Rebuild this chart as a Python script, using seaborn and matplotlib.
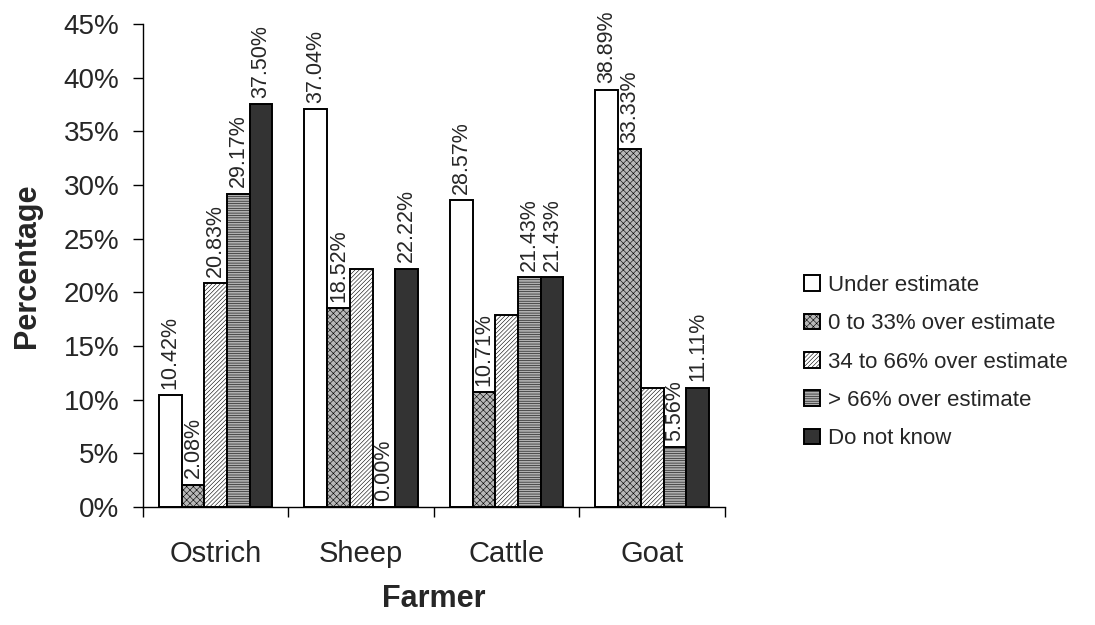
import matplotlib
matplotlib.use("Agg")
import matplotlib.pyplot as plt
from matplotlib.ticker import FixedLocator, FuncFormatter
import seaborn as sns
import pandas as pd

farmers = ["Ostrich", "Sheep", "Cattle", "Goat"]
categories = ["Under estimate", "0 to 33% over estimate", "34 to 66% over estimate",
              "> 66% over estimate", "Do not know"]
under_estimate = [10.42, 37.04, 28.57, 38.89]
over_0_33 = [2.08, 18.52, 10.71, 33.33]
over_34_66 = [20.83, 22.22, 17.86, 11.11]
over_66 = [29.17, 0.00, 21.43, 5.56]
do_not_know = [37.50, 22.22, 21.43, 11.11]
# labels shown in the reference (the 34-66% bars of Sheep, Cattle, Goat carry none)
shown = {
    "Under estimate": [True, True, True, True],
    "0 to 33% over estimate": [True, True, True, True],
    "34 to 66% over estimate": [True, False, False, False],
    "> 66% over estimate": [True, True, True, True],
    "Do not know": [True, True, True, True],
}
series = [under_estimate, over_0_33, over_34_66, over_66, do_not_know]

rows = []
for cat, vals in zip(categories, series):
    for f, v in zip(farmers, vals):
        rows.append({"Farmer": f, "Category": cat, "Percentage": v})
df = pd.DataFrame(rows)

sns.set_style("white")
plt.rcParams["font.family"] = ["Liberation Sans", "DejaVu Sans"]
plt.rcParams["hatch.linewidth"] = 0.4

fig = plt.figure(figsize=(10.95, 6.25), dpi=100)
ax = fig.add_axes([0.1306, 0.1888, 0.5314, 0.7728])

faces = ["#ffffff", "#b8b8b8", "#ffffff", "#b0b0b0", "#333333"]
hatches = [None, "xxxxx", "////////", "-------", None]
palette = dict(zip(categories, faces))

sns.barplot(data=df, x="Farmer", y="Percentage", hue="Category", order=farmers,
            hue_order=categories, palette=palette, width=0.78, dodge=True,
            edgecolor="black", linewidth=1.4, saturation=1, ax=ax, legend=False)

for cont, h, cat in zip(ax.containers, hatches, categories):
    for bar, lab_on in zip(cont.patches, shown[cat]):
        if h:
            bar.set_hatch(h)
        if lab_on:
            v = bar.get_height()
            ax.text(bar.get_x() + bar.get_width() / 2, v + 0.6, f"{v:.2f}%",
                    rotation=90, ha="center", va="bottom", fontsize=15.5)

ax.set_ylim(0, 45)
ax.set_xlim(-0.5, 3.5)
ax.yaxis.set_major_locator(FixedLocator(range(0, 46, 5)))
ax.yaxis.set_major_formatter(FuncFormatter(lambda v, p: f"{int(v)}%"))
ax.set_xticks([i for i in range(4)])
ax.set_xticklabels(farmers)
ax.set_xticks([-0.5, 0.5, 1.5, 2.5, 3.5], minor=True)
ax.tick_params(axis="x", which="major", length=0, labelsize=21, pad=24)
ax.tick_params(axis="x", which="minor", length=7, width=1, color="black", direction="out", bottom=True)
ax.tick_params(axis="y", length=7, width=1, color="black", direction="out", left=True, labelsize=20, pad=10)

for s in ["top", "right"]:
    ax.spines[s].set_visible(False)
for s in ["left", "bottom"]:
    ax.spines[s].set_color("black")
    ax.spines[s].set_linewidth(1)

ax.set_ylabel("Percentage", fontsize=22, fontweight="bold")
ax.yaxis.label.set_va("center")
ax.yaxis.set_label_coords(-0.2, 0.5)
ax.set_xlabel("Farmer", fontsize=22, fontweight="bold")
ax.xaxis.label.set_va("center")
ax.xaxis.set_label_coords(0.5, -0.19)

leg = fig.legend(ax.containers, categories, loc="center left", bbox_to_anchor=(0.734, 0.4208),
                 frameon=False, fontsize=16, handlelength=0.75, handleheight=0.7,
                 handletextpad=0.35, labelspacing=0.78, borderpad=0, borderaxespad=0)

fig.savefig("out.png", dpi=100)
